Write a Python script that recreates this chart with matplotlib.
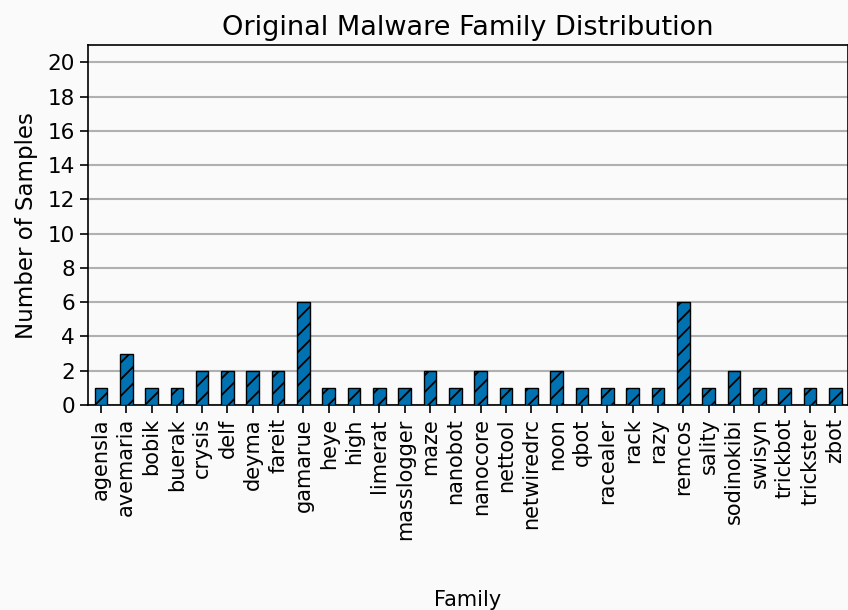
import matplotlib
matplotlib.use("Agg")
import matplotlib.pyplot as plt

families = ["agensla", "avemaria", "bobik", "buerak", "crysis", "delf", "deyma",
            "fareit", "gamarue", "heye", "high", "limerat", "masslogger", "maze",
            "nanobot", "nanocore", "nettool", "netwiredrc", "noon", "qbot",
            "racealer", "rack", "razy", "remcos", "sality", "sodinokibi", "swisyn",
            "trickbot", "trickster", "zbot"]
counts = [1, 3, 1, 1, 2, 2, 2, 2, 6, 1, 1, 1, 1, 2, 1, 2, 1, 1, 2, 1,
          1, 1, 1, 6, 1, 2, 1, 1, 1, 1]
yticks = list(range(0, 21, 2))

BG = "#fafafa"
BLUE = "#0072b2"

plt.rcParams["hatch.linewidth"] = 1.3
fig = plt.figure(figsize=(8.48, 6.10), dpi=100, facecolor=BG)
ax = fig.add_axes([0.104, 0.336, 0.896, 0.590], facecolor=BG)

x = list(range(len(families)))
ax.bar(x, counts, width=0.5, color=BLUE, edgecolor="black", hatch="//",
       linewidth=1.0, zorder=3)
ax.set_xlim(-0.5, len(families) - 0.5)
ax.set_ylim(0, 21)
ax.set_yticks(yticks)
ax.set_xticks(x)
ax.set_xticklabels(families, rotation=90, fontsize=15)
ax.tick_params(axis="y", labelsize=15.5)
ax.tick_params(length=6, width=1.2)
ax.yaxis.grid(True, color="#b0b0b0", linewidth=1.5, zorder=0)
ax.set_axisbelow(True)
for s in ax.spines.values():
    s.set_linewidth(1.2)

ax.set_title("Original Malware Family Distribution", fontsize=19.5, pad=7)
ax.set_ylabel("Number of Samples", fontsize=16.5, labelpad=7)
ax.set_xlabel("Family", fontsize=15, labelpad=36)

fig.savefig("out.png", facecolor=BG)
